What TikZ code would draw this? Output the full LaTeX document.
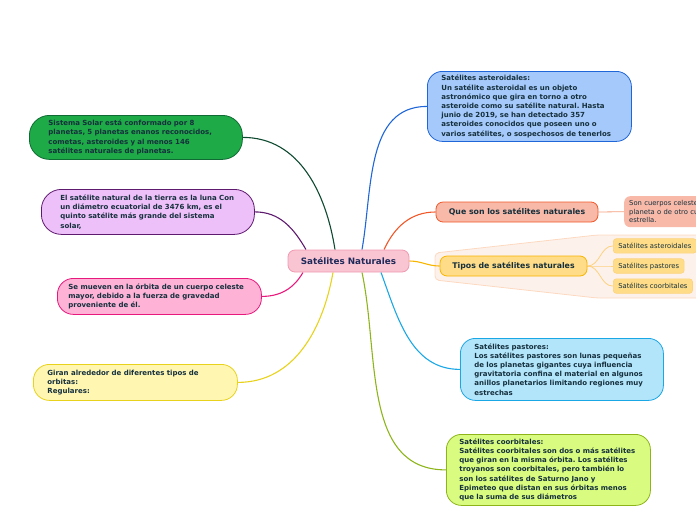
\documentclass[tikz,border=0pt]{standalone}
\usepackage{fontspec}
\setmainfont{DejaVu Sans}
\usetikzlibrary{positioning,backgrounds}
\frenchspacing
\definecolor{inktxt}{HTML}{15303D}
\definecolor{sntxt}{HTML}{1E2A5A}
\definecolor{snfill}{HTML}{F9C5D3}
\definecolor{sndraw}{HTML}{F09AB2}
\definecolor{ssfill}{HTML}{1EAA47}
\definecolor{ssdraw}{HTML}{0F6B33}
\definecolor{sslink}{HTML}{0E4A30}
\definecolor{moonfill}{HTML}{EEC0F9}
\definecolor{moondraw}{HTML}{5E1A6E}
\definecolor{orbfill}{HTML}{FDB2D6}
\definecolor{orbdraw}{HTML}{E8197D}
\definecolor{girfill}{HTML}{FFF6B2}
\definecolor{girdraw}{HTML}{E8D21C}
\definecolor{astfill}{HTML}{A6C9FB}
\definecolor{astdraw}{HTML}{1F66D8}
\definecolor{qsfill}{HTML}{F8B9A8}
\definecolor{qsdraw}{HTML}{F0582A}
\definecolor{qslink}{HTML}{F5A080}
\definecolor{tpfill}{HTML}{FFDD88}
\definecolor{tpdraw}{HTML}{F7B500}
\definecolor{tplink}{HTML}{FCD27E}
\definecolor{grpfill}{HTML}{FDF1EB}
\definecolor{grpdraw}{HTML}{FCD9C0}
\definecolor{pastfill}{HTML}{B2E4FA}
\definecolor{pastdraw}{HTML}{1AA7E6}
\definecolor{cofill}{HTML}{D9FC80}
\definecolor{codraw}{HTML}{8DB51A}
\tikzset{
  topic/.style={draw, rounded corners=15pt, line width=0.8pt, align=left, anchor=north west, inner sep=0pt, text=inktxt, font=\bfseries\fontsize{7}{9.2}\selectfont},
  mainbox/.style={draw, rounded corners=7pt, line width=0.8pt, inner sep=0pt, minimum height=20pt, text=inktxt, font=\bfseries\fontsize{7.8}{9}\selectfont},
  leaf/.style={draw=tplink, fill=tpfill, rounded corners=3pt, line width=0.6pt, inner xsep=5pt, inner ysep=0pt, minimum height=14.5pt, text=inktxt, font=\fontsize{6.8}{8}\selectfont},
  link/.style={line width=1.1pt},
}

\begin{document}
\begin{tikzpicture}[node distance=5pt]
\useasboundingbox (0,0) rectangle (696pt,-520pt);
\begin{scope}[x=1pt,y=1pt]
% central topic
\node[mainbox, minimum width=121pt, minimum height=22pt, fill=snfill, draw=sndraw, text=sntxt, font=\bfseries\fontsize{8.8}{10}\selectfont] (sn) at (348.5,-261) {Satélites Naturales};

% left side
\node[topic, fill=ssfill, draw=ssdraw, rounded corners=20pt, minimum width=213pt, minimum height=44pt, text width=175pt] (ss) at (29,-115) {Sistema Solar está conformado por 8\\planetas, 5 planetas enanos reconocidos,\\cometas, asteroides y al menos 146\\satélites naturales de planetas.};
\node[topic, fill=moonfill, draw=moondraw, rounded corners=20pt, minimum width=213pt, minimum height=45pt, text width=175pt] (moon) at (41,-189) {El satélite natural de la tierra es la luna Con\\un diámetro ecuatorial de 3476 km, es el\\quinto satélite más grande del sistema\\solar,};
\node[topic, fill=orbfill, draw=orbdraw, rounded corners=16pt, minimum width=204pt, minimum height=36pt, text width=182pt] (orb) at (57,-278) {Se mueven en la órbita de un cuerpo celeste\\mayor, debido a la fuerza de gravedad\\proveniente de él.};
\node[topic, fill=girfill, draw=girdraw, rounded corners=16pt, minimum width=204pt, minimum height=36pt, text width=176pt] (gir) at (33,-364) {Giran alrededor de diferentes tipos de\\orbitas:\\Regulares:};

% right side
\node[topic, fill=astfill, draw=astdraw, minimum width=204pt, minimum height=70pt, text width=176pt] (ast) at (427,-71) {Satélites asteroidales:\\Un satélite asteroidal es un objeto\\astronómico que gira en torno a otro\\asteroide como su satélite natural. Hasta\\junio de 2019, se han detectado 357\\asteroides conocidos que poseen uno o\\varios satélites, o sospechosos de tenerlos};
\node[mainbox, fill=qsfill, draw=qsdraw, minimum width=162pt] (qs) at (517,-212) {Que son los satélites naturales};
\node[fill=qsfill, rounded corners=6pt, anchor=north west, align=left, inner xsep=5pt, inner ysep=0pt, minimum height=31pt, text width=120pt, text=inktxt, font=\fontsize{6.8}{8.6}\selectfont] (son) at (624,-196) {Son cuerpos celestes que giran\\planeta o de otro cuerpo\\estrella.};
\node[mainbox, fill=tpfill, draw=tpdraw, minimum width=147pt] (tp) at (513.5,-266) {Tipos de satélites naturales};
\node[leaf, anchor=west] (lpast) at (613,-266) {Satélites pastores};
\node[leaf, above=5pt of lpast.north west, anchor=south west] (last) {Satélites asteroidales};
\node[leaf, below=5pt of lpast.south west, anchor=north west] (lco) {Satélites coorbitales};
\node[topic, fill=pastfill, draw=pastdraw, minimum width=203pt, minimum height=62pt, text width=175pt] (past) at (460,-338) {Satélites pastores:\\Los satélites pastores son lunas pequeñas\\de los planetas gigantes cuya influencia\\gravitatoria confina el material en algunos\\anillos planetarios limitando regiones muy\\estrechas};
\node[topic, fill=cofill, draw=codraw, minimum width=204pt, minimum height=71pt, text width=178pt] (co) at (446,-434) {Satélites coorbitales:\\Satélites coorbitales son dos o más satélites\\que giran en la misma órbita. Los satélites\\troyanos son coorbitales, pero también lo\\son los satélites de Saturno Jano y\\Epimeteo que distan en sus órbitas menos\\que la suma de sus diámetros};

\begin{scope}[on background layer]
% boundary round the types
\draw[fill=grpfill, draw=grpdraw, line width=0.8pt, rounded corners=4pt] (435,-253) -- (597,-235) -- (720,-235) -- (720,-298) -- (597,-298) -- (435,-280) -- cycle;
% branches
\draw[link, sslink] ([xshift=-13.5pt]sn.north) to[out=99, in=0] (ss.east);
\draw[link, moondraw] ([xshift=-42.5pt]sn.north) to[out=120, in=0] (moon.east);
\draw[link, orbdraw] ([xshift=-45.5pt]sn.south) to[out=-120, in=0] (orb.east);
\draw[link, girdraw] ([xshift=-15.5pt]sn.south) to[out=-100, in=0] (gir.east);
\draw[link, astdraw] ([xshift=13.5pt]sn.north) to[out=80, in=180] (ast.west);
\draw[link, qsdraw] ([xshift=35.5pt]sn.north) to[out=65, in=180] (qs.west);
\draw[link, tpdraw] (sn.east) to[out=0, in=180] (tp.west);
\draw[link, pastdraw] ([xshift=32.5pt]sn.south) to[out=-70, in=180] (past.west);
\draw[link, codraw] ([xshift=13.5pt]sn.south) to[out=-78, in=180] (co.west);
\draw[qslink, line width=0.8pt] (qs.east) -- (son.west);
\foreach \n in {last,lpast,lco} \draw[tplink, line width=0.8pt] (tp.east) to[out=0, in=180] (\n.west);
\end{scope}
\end{scope}
\end{tikzpicture}
\end{document}
